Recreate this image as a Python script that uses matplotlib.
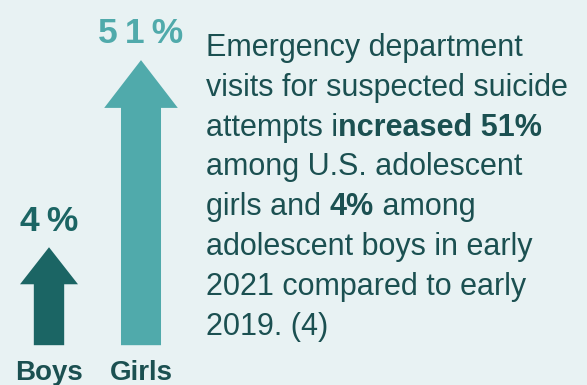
import matplotlib
matplotlib.use("Agg")
import matplotlib.pyplot as plt

# ─── data ────────────────────────────────────────────────────────────────────
groups = ["Boys", "Girls"]
increase_pct = [4, 51]

# right-hand text, one entry per line: list of (text, bold)
text_lines = [
    [("Emergency department", False)],
    [("visits for suspected suicide", False)],
    [("attempts i", False), ("ncreased 51%", True)],
    [("among U.S. adolescent", False)],
    [("girls and ", False), ("4%", True), (" among", False)],
    [("adolescent boys in early", False)],
    [("2021 compared to early", False)],
    [("2019. (4)", False)],
]

# ─── style ───────────────────────────────────────────────────────────────────
BG = "#e8f2f3"
TEXT_DARK = "#1b5051"
ARROW_COLORS = ["#1b6564", "#50aaab"]
SHAFT_W = [0.33, 0.435]
HEAD_W = [0.63, 0.80]
HEAD_L = [9.3, 12.0]
ARROW_BASE = -20.6

plt.rcParams["font.family"] = ["Liberation Sans", "DejaVu Sans"]

W, H = 587, 385
fig = plt.figure(figsize=(W / 100, H / 100), dpi=100, facecolor=BG)

# arrows
ax = fig.add_axes([0, 0, 190 / W, 1])
ax.set_facecolor(BG)
ax.set_xlim(-49 / 92, (190 - 49) / 92)
ax.set_ylim(-30.6, 66.1)
ax.axis("off")

for i, (g, v) in enumerate(zip(groups, increase_pct)):
    ax.arrow(i, ARROW_BASE, 0, v - ARROW_BASE, width=SHAFT_W[i],
             head_width=HEAD_W[i], head_length=HEAD_L[i],
             length_includes_head=True, color=ARROW_COLORS[i], lw=0)
    ax.text(i, v + 4.2, "\u2009".join(f"{v}%"), ha="center", va="baseline",
            fontsize=25.5, fontweight="bold", color=ARROW_COLORS[i])
    ax.text(i, -29.3, g, ha="center", va="baseline",
            fontsize=20, fontweight="bold", color=TEXT_DARK)

# description text
x0 = 206 / W
for k, segs in enumerate(text_lines):
    y = 1 - (55.7 + 39.9 * k) / H
    prev = None
    for s, bold in segs:
        kw = dict(fontsize=22, color=TEXT_DARK,
                  fontweight="bold" if bold else "normal", va="baseline")
        if prev is None:
            prev = fig.text(x0, y, s, ha="left", **kw)
        else:
            prev = fig.text(0, 0, s, ha="left", **kw)
            fig.canvas.draw()
            r = fig.canvas.get_renderer()
            bb = fig.texts[-2].get_window_extent(r)
            prev.set_position((bb.x1 / W, y))

fig.savefig("out.png", dpi=100, facecolor=BG)
